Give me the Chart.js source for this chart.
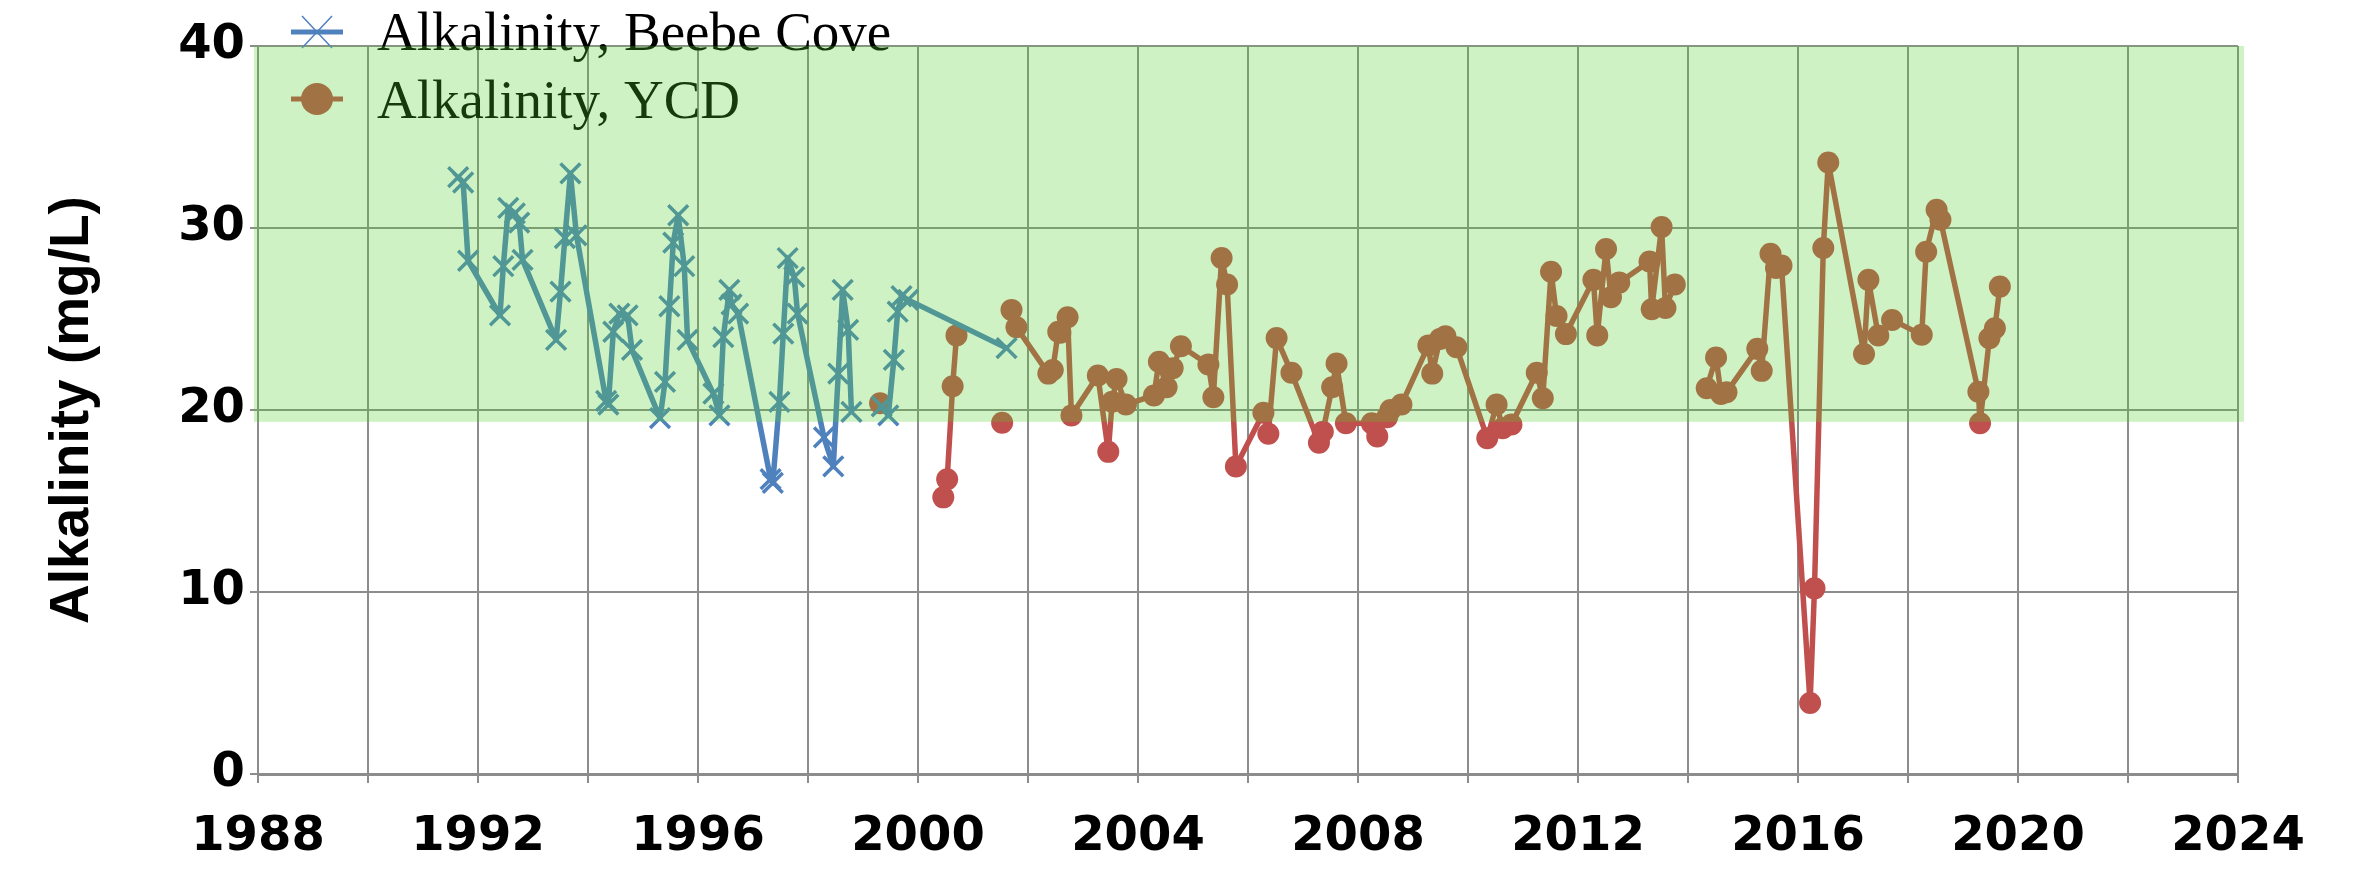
<!DOCTYPE html>
<html>
<head>
<meta charset="utf-8">
<script src="https://cdn.jsdelivr.net/npm/chart.js@4"></script>
<style>
  body { margin: 0; background: #fff; }
  #wrap { width: 2355px; height: 879px; }
</style>
</head>
<body>
<div id="wrap"><canvas id="alkChart" width="2355" height="879"></canvas></div>
<script>
// Beebe Cove samples (decimal year, mg/L); null = break in the line
const beebeYears = [
  1991.64, 1991.73, 1991.82, 1992.40, 1992.46, 1992.55, 1992.67, 1992.75, 1992.81, 1993.42,
  1993.50, 1993.58, 1993.68, 1993.79, 1994.33, 1994.37, 1994.46, 1994.57, 1994.72, 1994.80,
  1995.31, 1995.40, 1995.48, 1995.55, 1995.64, 1995.75, 1995.81, 1996.28, 1996.39, 1996.46,
  1996.57, 1996.61, 1996.73, 1997.32, 1997.36, 1997.48, 1997.55, 1997.63, 1997.75, 1997.81,
  1998.29, 1998.46, 1998.55, 1998.63, 1998.73, 1998.79, null, 1999.34, 1999.46, 1999.56,
  1999.63, 1999.70, 1999.82, 2001.61
];
const beebeAlk = [
  32.8, 32.5, 28.2, 25.2, 27.9, 31.1, 30.8, 30.3, 28.25, 23.85,
  26.5, 29.45, 33.0, 29.6, 20.5, 20.3, 24.3, 25.3, 25.2, 23.3,
  19.55, 21.55, 25.7, 29.2, 30.7, 27.9, 23.85, 20.9, 19.7, 24.0,
  26.6, 25.8, 25.3, 16.2, 16.0, 20.45, 24.2, 28.35, 27.3, 25.3,
  18.5, 16.9, 22.0, 26.6, 24.4, 19.9, null, 20.2, 19.7, 22.75,
  25.4, 26.25, 26.05, 23.4
];

// YCD samples
const ycdYears = [
  1999.31, null, 2000.46, 2000.53, 2000.63, 2000.70, null, 2001.53, null, 2001.70,
  2001.79, 2002.37, 2002.45, 2002.55, 2002.59, 2002.72, 2002.79, 2003.27, 2003.46, 2003.53,
  2003.61, 2003.78, 2004.29, 2004.38, 2004.52, 2004.63, 2004.78, 2005.28, 2005.37, 2005.52,
  2005.62, 2005.78, 2006.28, 2006.37, 2006.52, 2006.79, 2007.29, 2007.36, 2007.53, 2007.61,
  2007.78, 2008.25, 2008.35, 2008.53, 2008.59, 2008.79, 2009.28, 2009.35, 2009.49, 2009.59,
  2009.79, 2010.35, 2010.52, 2010.63, 2010.79, 2011.25, 2011.36, 2011.51, 2011.61, 2011.78,
  2012.28, 2012.35, 2012.51, 2012.60, 2012.75, 2013.30, 2013.34, 2013.52, 2013.59, 2013.76,
  null, 2014.34, 2014.51, 2014.60, 2014.70, 2015.26, 2015.34, 2015.50, 2015.60, 2015.70,
  2016.22, 2016.30, 2016.46, 2016.55, 2017.20, 2017.28, 2017.46, 2017.71, 2018.25, 2018.33,
  2018.52, 2018.59, 2019.28, 2019.31, 2019.48, 2019.58, 2019.67
];
const ycdAlk = [
  20.37, null, 15.2, 16.2, 21.3, 24.1, null, 19.3, null, 25.5,
  24.55, 22.0, 22.2, 24.3, 24.25, 25.1, 19.7, 21.9, 17.7, 20.45,
  21.7, 20.3, 20.8, 22.65, 21.25, 22.3, 23.5, 22.5, 20.7, 28.35,
  26.9, 16.9, 19.85, 18.7, 23.95, 22.05, 18.2, 18.8, 21.25, 22.55,
  19.27, 19.27, 18.55, 19.6, 20.0, 20.3, 23.55, 22.0, 23.9, 24.05,
  23.45, 18.45, 20.3, 19.0, 19.2, 22.05, 20.65, 27.6, 25.17, 24.17,
  27.15, 24.1, 28.85, 26.2, 27.0, 28.16, 25.54, 30.05, 25.6, 26.9,
  null, 21.2, 22.88, 20.88, 20.97, 23.36, 22.15, 28.58, 27.8, 27.94,
  3.9, 10.2, 28.9, 33.6, 23.08, 27.15, 24.09, 24.95, 24.13, 28.7,
  31.0, 30.45, 21.0, 19.27, 23.94, 24.49, 26.78
];

const seriesNames = ['Alkalinity, Beebe Cove', 'Alkalinity, YCD'];
const xRange = [1988, 2024];
const yRange = [0, 40];
const goodRange = [19.35, 40];   // shaded "healthy" band

function toPoints(years, vals) {
    return years.map((yr, i) => ({ x: yr === null ? years[i - 1] : yr, y: vals[i] }));
}

const BLUE = '#4f81bd';
const RED = '#c0504d';

// legend drawn by hand so it can sit half over the plot top like the original
const legendPlugin = {
    id: 'handLegend',
    afterDatasetsDraw(chart) {
        const ctx = chart.ctx;
        ctx.save();
        // Beebe Cove
        ctx.strokeStyle = BLUE;
        ctx.lineWidth = 5;
        ctx.beginPath(); ctx.moveTo(291, 32); ctx.lineTo(343, 32); ctx.stroke();
        ctx.lineWidth = 1.5;
        ctx.beginPath();
        ctx.moveTo(302, 16); ctx.lineTo(332, 48);
        ctx.moveTo(332, 16); ctx.lineTo(302, 48);
        ctx.stroke();
        // YCD
        ctx.strokeStyle = RED;
        ctx.lineWidth = 5;
        ctx.beginPath(); ctx.moveTo(291, 99); ctx.lineTo(343, 99); ctx.stroke();
        ctx.fillStyle = RED;
        ctx.beginPath(); ctx.ellipse(317, 99, 16, 16, 0, 0, Math.PI * 2); ctx.fill();

        ctx.fillStyle = '#000';
        ctx.font = '55px "Liberation Serif"';
        ctx.textBaseline = 'alphabetic';
        ctx.fillText(seriesNames[0], 377, 50);
        ctx.fillText(seriesNames[1], 377, 118);
        ctx.restore();
    }
};

// translucent green band laid over everything, as in the original
const bandPlugin = {
    id: 'band',
    afterDraw(chart) {
        const { ctx, chartArea, scales } = chart;
        const yTop = scales.y.getPixelForValue(goodRange[1]);
        const yBot = scales.y.getPixelForValue(goodRange[0]);
        ctx.save();
        ctx.fillStyle = 'rgba(84, 209, 48, 0.28)';
        ctx.fillRect(chartArea.left - 4, yTop, chartArea.right - chartArea.left + 10, yBot - yTop);
        ctx.restore();
    }
};

Chart.defaults.font.family = '"DejaVu Sans"';
Chart.defaults.color = '#000';

const ctx = document.getElementById('alkChart').getContext('2d');
const alkChart = new Chart(ctx, {
    type: 'line',
    data: {
        datasets: [{
            label: seriesNames[0],
            data: toPoints(beebeYears, beebeAlk),
            borderColor: BLUE,
            backgroundColor: BLUE,
            borderWidth: 5.5,
            borderJoinStyle: 'round',
            pointStyle: 'crossRot',
            pointRadius: 14,
            pointBorderWidth: 3.5,
            pointBorderColor: BLUE,
            tension: 0,
            spanGaps: false
        }, {
            label: seriesNames[1],
            data: toPoints(ycdYears, ycdAlk),
            borderColor: RED,
            backgroundColor: RED,
            borderWidth: 5.5,
            borderJoinStyle: 'round',
            pointStyle: 'circle',
            pointRadius: 11,
            pointBorderWidth: 0,
            pointBackgroundColor: RED,
            tension: 0,
            spanGaps: false
        }]
    },
    options: {
        responsive: false,
        devicePixelRatio: 1,
        animation: false,
        layout: { padding: { top: 46, right: 117, left: 0, bottom: 0 } },
        plugins: {
            legend: { display: false },
            tooltip: { enabled: false }
        },
        scales: {
            x: {
                type: 'linear',
                min: xRange[0],
                max: xRange[1],
                afterFit(scale) { scale.height = 105; },
                grid: { color: '#8c8c8c', lineWidth: 2, tickLength: 9 },
                border: { color: '#8c8c8c', width: 3 },
                ticks: {
                    stepSize: 2,
                    autoSkip: false,
                    maxRotation: 0,
                    padding: 26,
                    font: { size: 48, weight: 'bold' },
                    callback: v => (v % 4 === 0 ? String(v) : '')
                }
            },
            y: {
                min: yRange[0],
                max: yRange[1],
                afterFit(scale) { scale.width = 258; },
                grid: { color: '#8c8c8c', lineWidth: 2, tickLength: 8 },
                border: { color: '#8c8c8c', width: 2 },
                ticks: {
                    stepSize: 10,
                    padding: 5,
                    font: { size: 48, weight: 'bold' }
                },
                title: {
                    display: true,
                    text: 'Alkalinity (mg/L)',
                    padding: { top: 40, bottom: 0 },
                    font: { family: '"Liberation Sans"', size: 55, weight: 'bold' }
                }
            }
        }
    },
    plugins: [legendPlugin, bandPlugin]
});
</script>
</body>
</html>
